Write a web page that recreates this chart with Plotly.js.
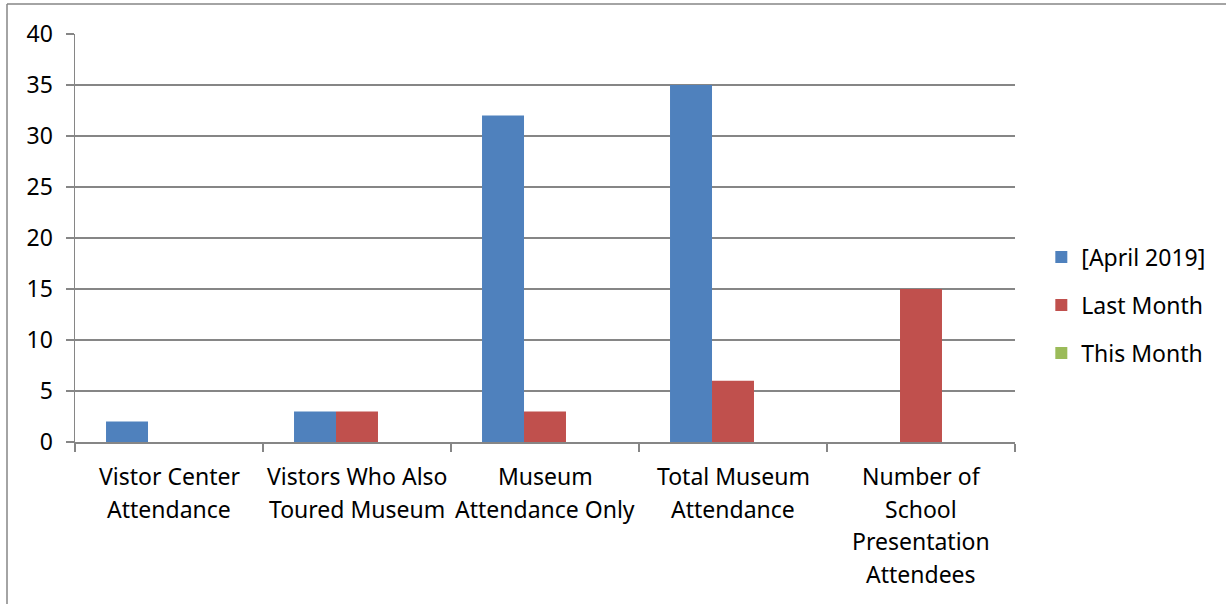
<!DOCTYPE html>
<html>
<head>
<meta charset="utf-8">
<script src="https://cdn.plot.ly/plotly-3.0.1.min.js"></script>
<style>
html,body{margin:0;padding:0;background:#fff;}
#chart{width:1226px;height:604px;}
</style>
</head>
<body>
<div id="chart"></div>
<script>
const categories = [
  "Vistor Center<br>Attendance",
  "Vistors Who Also<br>Toured Museum",
  "Museum<br>Attendance Only",
  "Total Museum<br>Attendance",
  "Number of<br>School<br>Presentation<br>Attendees"
];
const seriesNames = ["[April 2019]", "Last Month", "This Month"];
const april2019 = [2, 3, 32, 35, 0];
const lastMonth = [0, 3, 3, 6, 15];
const thisMonth = [0, 0, 0, 0, 0];
const yTicks = [0, 5, 10, 15, 20, 25, 30, 35, 40];

const colors = ["#4F81BD", "#C0504D", "#9BBB59"];
const FONT = "Noto Sans, Open Sans, sans-serif";
const values = [april2019, lastMonth, thisMonth];
const legendIds = ["legend", "legend2", "legend3"];

const traces = values.map((v, i) => ({
  type: "bar",
  name: seriesNames[i],
  x: categories,
  y: v,
  marker: {color: colors[i], line: {width: 0}},
  legend: legendIds[i],
  hoverinfo: "skip"
}));

// x labels as annotations, one per text line
const annotations = [];
categories.forEach(c => {
  c.split("<br>").forEach((line, k) => {
    annotations.push({
      x: c, xref: "x", y: 0, yref: "paper",
      text: line, showarrow: false,
      xanchor: "center", yanchor: "middle",
      yshift: -(34 + k * 32.7),
      font: {family: FONT, size: 23, color: "#000"}
    });
  });
});

const legendRows = [257, 305, 353];
const legendBase = {
  xref: "paper", yref: "paper", x: 1.028, xanchor: "left", yanchor: "middle",
  font: {family: FONT, size: 23, color: "#000"},
  bgcolor: "rgba(0,0,0,0)", borderwidth: 0
};
const layout = {
  width: 1226, height: 604,
  margin: {l: 75, r: 211, t: 34, b: 162, pad: 0},
  paper_bgcolor: "#fff", plot_bgcolor: "#fff",
  barmode: "group", bargap: 0.33, bargroupgap: 0,
  font: {family: FONT, size: 23, color: "#000"},
  xaxis: {
    type: "category", showticklabels: false,
    showline: true, linecolor: "#868686", linewidth: 1.5,
    ticks: "outside", tickson: "boundaries", ticklen: 8, tickcolor: "#868686", tickwidth: 1.5,
    showgrid: false, zeroline: false, fixedrange: true
  },
  yaxis: {
    range: [0, 40], tickvals: yTicks, ticktext: yTicks.map(String),
    showline: true, linecolor: "#868686", linewidth: 1.5,
    ticks: "outside", ticklen: 8, tickcolor: "#868686", tickwidth: 1.5,
    showgrid: true, gridcolor: "#868686", gridwidth: 1.5,
    zeroline: false, ticklabelstandoff: 8,
    tickfont: {family: FONT, size: 23, color: "#000"}, fixedrange: true
  },
  showlegend: true,
  annotations: annotations,
  shapes: [
    {type: "line", xref: "paper", yref: "paper", x0: -68/940, x1: -68/940, y0: 438/408, y1: -170/408,
     line: {color: "#868686", width: 1.5}},
    {type: "line", xref: "paper", yref: "paper", x0: -68/940, x1: 220/940 + 1, y0: 438/408, y1: 438/408,
     line: {color: "#868686", width: 1.5}}
  ]
};
legendIds.forEach((id, i) => {
  layout[id] = Object.assign({}, legendBase, {y: (442 - legendRows[i]) / 408});
});

Plotly.newPlot("chart", traces, layout, {displayModeBar: false, staticPlot: true});
</script>
</body>
</html>
